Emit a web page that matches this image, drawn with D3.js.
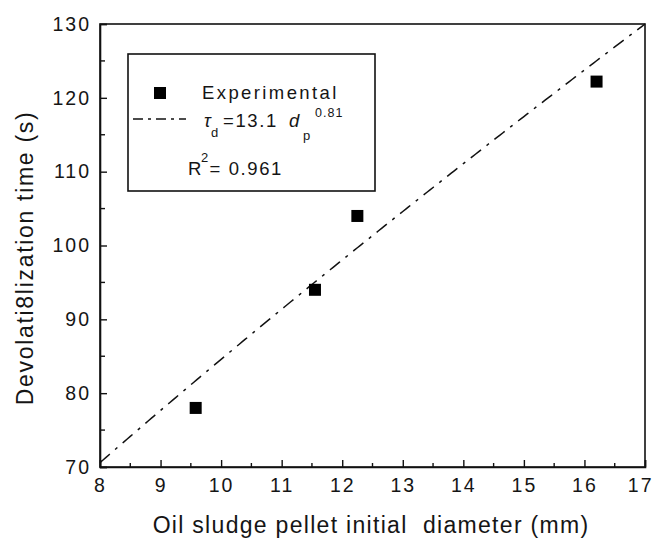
<!DOCTYPE html>
<html>
<head>
<meta charset="utf-8">
<script src="https://cdn.jsdelivr.net/npm/d3@7"></script>
<style>
  html, body { margin: 0; padding: 0; background: #fff; }
  svg text { font-family: "Liberation Sans", Arial, sans-serif; fill: #151515; }
</style>
</head>
<body>
<svg id="chart" width="654" height="541"></svg>
<script>
// Measured pellet diameters (mm) and devolatilization times (s)
const diameters = [9.58, 11.55, 12.25, 16.2];
const devolTimes = [78, 94, 104, 122.2];

// Power-law fit: tau_d = 13.1 * d_p^0.81
const fitCoef = 13.1;
const fitExp = 0.81;
const fitLabelCoef = "13.1";
const fitLabelExp = "0.81";
const rSquared = "0.961";

const xTicks = [8, 9, 10, 11, 12, 13, 14, 15, 16, 17];
const yTicks = [70, 80, 90, 100, 110, 120, 130];
const xMinorTicks = [8.5, 9.5, 10.5, 11.5, 12.5, 13.5, 14.5, 15.5, 16.5];
const yMinorTicks = [75, 85, 95, 105, 115, 125];

const svg = d3.select("#chart");
const plotL = 100, plotR = 645, plotT = 24, plotB = 467;

const x = d3.scaleLinear().domain([8, 17]).range([plotL, plotR]);
const y = d3.scaleLinear().domain([70, 130]).range([plotB, plotT]);

// Frame
svg.append("rect")
  .attr("x", plotL).attr("y", plotT)
  .attr("width", plotR - plotL).attr("height", plotB - plotT)
  .attr("fill", "none").attr("stroke", "#111").attr("stroke-width", 1.6);

// Bottom axis (ticks point inward)
const xAxis = svg.append("g").attr("transform", `translate(0,${plotB})`)
  .call(d3.axisBottom(x).tickValues(xTicks).tickSize(-7).tickPadding(11)
    .tickFormat(d3.format("d")));
xAxis.append("g").selectAll("line").data(xMinorTicks).join("line")
  .attr("x1", d => x(d)).attr("x2", d => x(d)).attr("y1", 0).attr("y2", -4)
  .attr("stroke", "#111").attr("stroke-width", 1.4);

// Left axis
const yAxis = svg.append("g").attr("transform", `translate(${plotL},0)`)
  .call(d3.axisLeft(y).tickValues(yTicks).tickSize(-7).tickPadding(9)
    .tickFormat(d3.format("d")));
yAxis.append("g").selectAll("line").data(yMinorTicks).join("line")
  .attr("y1", d => y(d)).attr("y2", d => y(d)).attr("x1", 0).attr("x2", 5)
  .attr("stroke", "#111").attr("stroke-width", 1.4);

[xAxis, yAxis].forEach(g => {
  g.select(".domain").attr("stroke", "#111").attr("stroke-width", 1.6);
  g.selectAll(".tick line").attr("stroke", "#111").attr("stroke-width", 1.4);
  g.selectAll(".tick text")
    .attr("font-size", 19.5).attr("letter-spacing", 2)
    .attr("font-family", "Liberation Sans, Arial, sans-serif").attr("fill", "#151515");
});

// Keep the last x label inside the page edge
xAxis.selectAll(".tick text").filter(d => d === 17)
  .attr("text-anchor", "end").attr("x", 654 - plotR - 1);

// Axis titles
svg.append("text")
  .attr("x", 371).attr("y", 533)
  .attr("text-anchor", "middle").attr("font-size", 23).attr("letter-spacing", 1.3)
  .attr("xml:space", "preserve")
  .text("Oil sludge pellet initial  diameter (mm)");

svg.append("text")
  .attr("transform", "translate(33,258) rotate(-90)")
  .attr("text-anchor", "middle").attr("font-size", 23).attr("letter-spacing", 1.7)
  .text("Devolati8lization time (s)");

// Fit curve
const fitXs = d3.range(8, 17.0001, 0.05);
const line = d3.line().x(d => x(d)).y(d => y(fitCoef * Math.pow(d, fitExp)));
svg.append("path")
  .datum(fitXs)
  .attr("d", line)
  .attr("fill", "none").attr("stroke", "#111").attr("stroke-width", 1.5)
  .attr("stroke-dasharray", "13,7,3,7");

// Experimental points
const sq = 12;
svg.append("g").selectAll("rect").data(diameters).join("rect")
  .attr("x", d => x(d) - sq / 2)
  .attr("y", (d, i) => y(devolTimes[i]) - sq / 2)
  .attr("width", sq).attr("height", sq)
  .attr("fill", "#000");

// Legend
const lg = svg.append("g");
lg.append("rect").attr("x", 128).attr("y", 54).attr("width", 247).attr("height", 137)
  .attr("fill", "#fff").attr("stroke", "#111").attr("stroke-width", 1.6);
lg.append("rect").attr("x", 154).attr("y", 87).attr("width", 12).attr("height", 12).attr("fill", "#000");
lg.append("text").attr("x", 202).attr("y", 98.5).attr("font-size", 18.5).attr("letter-spacing", 2.4)
  .text("Experimental");
lg.append("line").attr("x1", 133).attr("x2", 186).attr("y1", 119).attr("y2", 119)
  .attr("stroke", "#111").attr("stroke-width", 1.5).attr("stroke-dasharray", "10,5,3,5");

// Fit equation label
lg.append("text").attr("x", 204).attr("y", 127).attr("font-size", 18)
  .attr("font-style", "italic").attr("font-family", "Liberation Serif, serif").text("τ");
lg.append("text").attr("x", 211).attr("y", 137).attr("font-size", 13).text("d");
lg.append("text").attr("x", 223).attr("y", 127).attr("font-size", 18.5).attr("letter-spacing", 1.6)
  .text("=" + fitLabelCoef);
lg.append("text").attr("x", 289).attr("y", 127).attr("font-size", 18.5)
  .attr("font-style", "italic").text("d");
lg.append("text").attr("x", 303).attr("y", 140).attr("font-size", 13).text("p");
lg.append("text").attr("x", 315).attr("y", 117).attr("font-size", 12.5).attr("letter-spacing", 1)
  .text(fitLabelExp);

// Goodness of fit
lg.append("text").attr("x", 188).attr("y", 175).attr("font-size", 18.5).text("R");
lg.append("text").attr("x", 201).attr("y", 162).attr("font-size", 13).text("2");
lg.append("text").attr("x", 209.5).attr("y", 175).attr("font-size", 18.5).attr("letter-spacing", 1.6)
  .text("= " + rSquared);
</script>
</body>
</html>
